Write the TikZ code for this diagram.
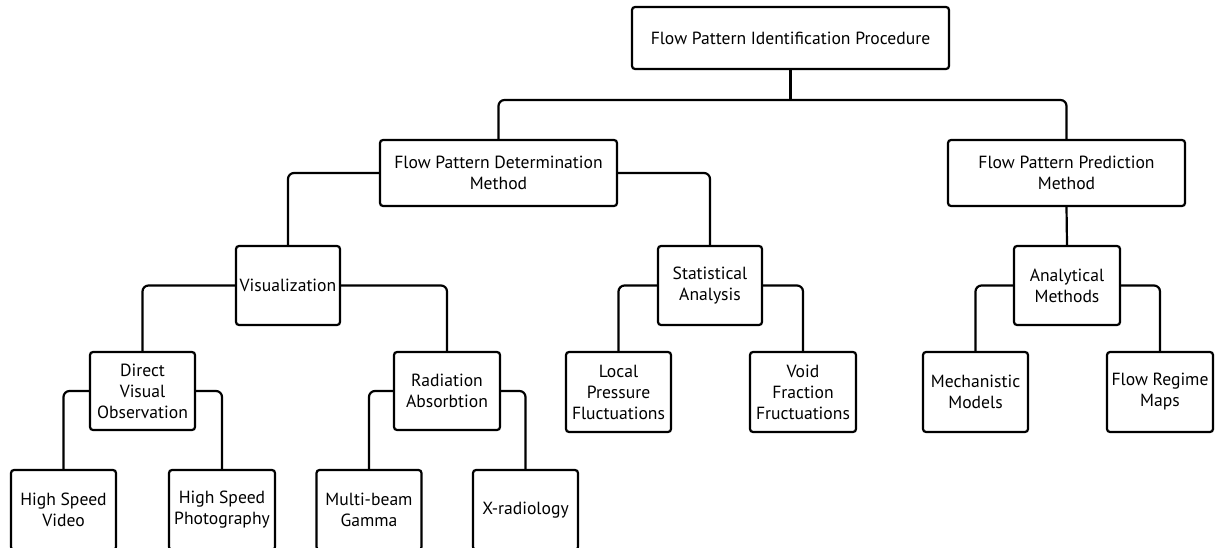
\documentclass[tikz,border=0pt]{standalone}
\usepackage{fontspec}
\setmainfont{PT Sans}
\begin{document}
\begin{tikzpicture}[x=1pt,y=-1pt,
  box/.style={draw, line width=2.2pt, rounded corners=3pt, fill=white, align=center,
    font=\fontsize{17.6}{21}\selectfont, inner sep=2pt},
  conn/.style={line width=2.2pt, rounded corners=6pt}]
\useasboundingbox (0,0) rectangle (1217,548);
\node[box, minimum width=317pt, minimum height=62pt] (root) at (790.5,38) {Flow Pattern Identification Procedure};
\node[box, minimum width=237pt, minimum height=66pt] (det) at (498.5,173) {Flow Pattern Determination\\Method};
\node[box, minimum width=237pt, minimum height=66pt] (pred) at (1066.5,173) {Flow Pattern Prediction\\Method};
\node[box, minimum width=104pt, minimum height=79pt] (vis) at (288,285.5) {Visualization};
\node[box, minimum width=104pt, minimum height=79pt] (stat) at (710,285.5) {Statistical\\Analysis};
\node[box, minimum width=106pt, minimum height=79pt] (anal) at (1067,285.5) {Analytical\\Methods};
\node[box, minimum width=105pt, minimum height=78pt] (dvo) at (142.5,391) {Direct\\Visual\\Observation};
\node[box, minimum width=106pt, minimum height=78pt] (rad) at (447,391) {Radiation\\Absorbtion};
\node[box, minimum width=105pt, minimum height=80pt] (loc) at (618.5,392) {Local\\Pressure\\Fluctuations};
\node[box, minimum width=106pt, minimum height=80pt] (void) at (803,392) {Void\\Fraction\\Fructuations};
\node[box, minimum width=105pt, minimum height=80pt] (mech) at (975.5,392) {Mechanistic\\Models};
\node[box, minimum width=106pt, minimum height=80pt] (frm) at (1160,392) {Flow Regime\\Maps};
\node[box, minimum width=105pt, minimum height=80pt] (hsv) at (63.5,510) {High Speed\\Video};
\node[box, minimum width=106pt, minimum height=80pt] (hsp) at (222,510) {High Speed\\Photography};
\node[box, minimum width=105pt, minimum height=80pt] (mbg) at (369,510) {Multi-beam\\Gamma};
\node[box, minimum width=105pt, minimum height=80pt] (xr) at (525.5,510) {X-radiology};
\draw[conn] (root.south) -- (root.south|-0,100);
\draw[conn] (det.north) -- (det.north|-0,100) -- (pred.north|-0,100) -- (pred.north);
\draw[conn] (det.west) -| (vis.north);
\draw[conn] (det.east) -| (stat.north);
\draw[conn] (pred.south) -- (anal.north);
\draw[conn] (vis.west) -| (dvo.north);
\draw[conn] (vis.east) -| (rad.north);
\draw[conn] (stat.west) -| (loc.north);
\draw[conn] (stat.east) -| (void.north);
\draw[conn] (anal.west) -| (mech.north);
\draw[conn] (anal.east) -| (frm.north);
\draw[conn] (dvo.west) -| (hsv.north);
\draw[conn] (dvo.east) -| (hsp.north);
\draw[conn] (rad.west) -| (mbg.north);
\draw[conn] (rad.east) -| (xr.north);
\end{tikzpicture}
\end{document}
